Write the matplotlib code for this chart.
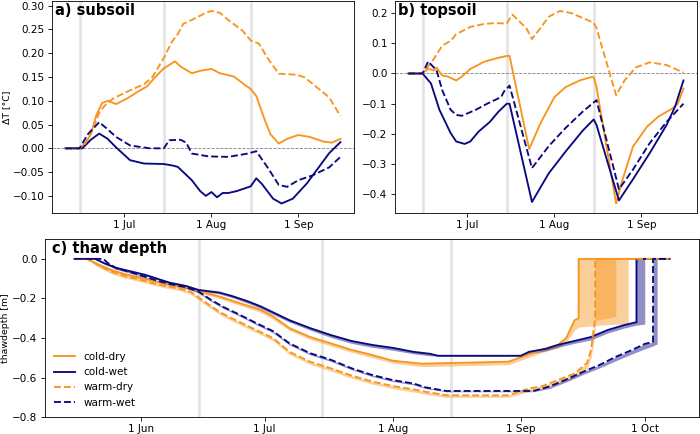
import matplotlib.pyplot as plt
import matplotlib.dates as mdates
import pandas as pd

YEAR = "2019-"

# marker dates (grey vertical lines)
marker_dates = ["06-15", "07-15", "08-15"]

# ---------------- a) subsoil ----------------
a_cold_dry_dates = ["06-10", "06-15", "06-17", "06-19", "06-21", "06-23", "06-25", "06-28",
                    "07-02", "07-06", "07-09", "07-12", "07-15", "07-19", "07-21", "07-25",
                    "07-28", "08-01", "08-04", "08-09", "08-13", "08-15", "08-17", "08-20",
                    "08-22", "08-25", "08-28", "09-01", "09-05", "09-10", "09-13", "09-16"]
a_cold_dry = [0, 0, 0.01, 0.03, 0.07, 0.095, 0.10, 0.093,
              0.105, 0.12, 0.13, 0.15, 0.168, 0.183, 0.172, 0.158,
              0.163, 0.167, 0.158, 0.151, 0.133, 0.125, 0.11, 0.06,
              0.03, 0.01, 0.02, 0.028, 0.024, 0.014, 0.012, 0.02]

a_warm_dry_dates = ["06-10", "06-15", "06-17", "06-19", "06-22", "06-24", "06-27", "07-03",
                    "07-08", "07-11", "07-15", "07-18", "07-20", "07-22", "07-25", "07-30",
                    "08-01", "08-04", "08-07", "08-12", "08-15", "08-18", "08-21", "08-25",
                    "08-31", "09-03", "09-06", "09-12", "09-16"]
a_warm_dry = [0, 0, 0.01, 0.03, 0.075, 0.09, 0.105, 0.122,
              0.135, 0.15, 0.19, 0.225, 0.24, 0.262, 0.27, 0.285,
              0.289, 0.285, 0.27, 0.248, 0.227, 0.22, 0.19, 0.157,
              0.155, 0.15, 0.136, 0.107, 0.068]

a_cold_wet_dates = ["06-10", "06-16", "06-19", "06-22", "06-25", "06-28", "07-03", "07-08",
                    "07-15", "07-18", "07-20", "07-25", "07-28", "07-30", "08-01", "08-03",
                    "08-05", "08-07", "08-10", "08-13", "08-15", "08-17", "08-19", "08-23",
                    "08-26", "08-30", "09-04", "09-07", "09-12", "09-16"]
a_cold_wet = [0, 0, 0.018, 0.031, 0.02, 0.002, -0.025, -0.032,
              -0.033, -0.036, -0.039, -0.067, -0.09, -0.10, -0.092, -0.103,
              -0.094, -0.094, -0.09, -0.084, -0.08, -0.063, -0.075, -0.106,
              -0.116, -0.106, -0.074, -0.05, -0.01, 0.013]

a_warm_wet_dates = ["06-10", "06-15", "06-18", "06-22", "06-25", "06-28", "07-03", "07-10",
                    "07-15", "07-17", "07-21", "07-23", "07-25", "07-31", "08-07", "08-14",
                    "08-17", "08-21", "08-25", "08-28", "09-01", "09-06", "09-12", "09-16"]
a_warm_wet = [0, 0, 0.03, 0.055, 0.04, 0.024, 0.006, 0.0,
              0.0, 0.017, 0.018, 0.012, -0.011, -0.017, -0.018, -0.011,
              -0.006, -0.04, -0.077, -0.081, -0.067, -0.057, -0.04, -0.018]

# ---------------- b) topsoil ----------------
b_cold_dry_dates = ["06-10", "06-15", "06-17", "06-19", "06-20", "06-22", "06-24", "06-27",
                    "06-29", "07-02", "07-07", "07-12", "07-15", "07-16", "07-23", "07-27",
                    "08-01", "08-05", "08-10", "08-14", "08-15", "08-16", "08-23", "08-25",
                    "08-29", "09-03", "09-07", "09-12", "09-14", "09-16"]
b_cold_dry = [0, 0, 0.016, 0.01, 0.02, -0.007, -0.01, -0.023,
              -0.01, 0.015, 0.039, 0.052, 0.058, 0.058, -0.25, -0.165,
              -0.078, -0.045, -0.023, -0.012, -0.012, -0.045, -0.43, -0.36,
              -0.242, -0.176, -0.143, -0.116, -0.10, -0.05]

b_warm_dry_dates = ["06-10", "06-15", "06-19", "06-22", "06-25", "06-27", "07-02", "07-07",
                    "07-11", "07-15", "07-17", "07-20", "07-22", "07-24", "07-27", "07-30",
                    "08-03", "08-07", "08-15", "08-16", "08-23", "08-26", "08-30", "09-04",
                    "09-10", "09-16"]
b_warm_dry = [0, 0, 0.048, 0.092, 0.108, 0.13, 0.154, 0.164,
              0.167, 0.165, 0.195, 0.168, 0.15, 0.114, 0.15, 0.188,
              0.207, 0.20, 0.168, 0.15, -0.072, -0.023, 0.02, 0.037,
              0.028, 0.003]

b_cold_wet_dates = ["06-10", "06-15", "06-18", "06-21", "06-25", "06-27", "06-30", "07-02",
                    "07-05", "07-09", "07-12", "07-15", "07-16", "07-24", "07-30", "08-05",
                    "08-11", "08-15", "08-16", "08-24", "08-29", "09-04", "09-10", "09-13",
                    "09-16"]
b_cold_wet = [0, 0, -0.033, -0.12, -0.197, -0.225, -0.233, -0.225,
              -0.192, -0.16, -0.127, -0.10, -0.10, -0.425, -0.33, -0.258,
              -0.19, -0.152, -0.17, -0.42, -0.35, -0.263, -0.17, -0.11,
              -0.023]

b_warm_wet_dates = ["06-10", "06-15", "06-17", "06-20", "06-22", "06-25", "06-27", "06-29",
                    "07-04", "07-08", "07-13", "07-14", "07-16", "07-24", "07-30", "08-05",
                    "08-11", "08-16", "08-24", "08-29", "09-04", "09-10", "09-16"]
b_warm_wet = [0, 0, 0.04, 0.01, -0.055, -0.12, -0.137, -0.14,
              -0.12, -0.10, -0.078, -0.06, -0.04, -0.313, -0.24, -0.18,
              -0.127, -0.088, -0.383, -0.318, -0.23, -0.16, -0.10]

# ---------------- c) thaw depth ----------------
c_cold_dry_dates = ["05-16", "05-19", "05-22", "05-25", "05-28", "06-01", "06-05", "06-08",
                    "06-13", "06-16", "06-20", "06-25", "06-30", "07-03", "07-07", "07-12",
                    "07-17", "07-22", "07-27", "08-01", "08-08", "08-29", "09-02", "09-06",
                    "09-10", "09-12", "09-14", "09-15", "09-15", "09-20", "09-24", "09-27",
                    "09-27", "10-07"]
c_cold_dry = [0, 0, -0.03, -0.056, -0.076, -0.096, -0.116, -0.13,
              -0.147, -0.167, -0.19, -0.224, -0.257, -0.29, -0.35, -0.395,
              -0.427, -0.46, -0.486, -0.515, -0.53, -0.52, -0.49, -0.46,
              -0.435, -0.40, -0.31, -0.30, 0, 0, 0, 0,
              0, 0]
c_cold_dry_low = [0, 0, -0.038, -0.065, -0.085, -0.105, -0.125, -0.14,
                  -0.157, -0.177, -0.2, -0.235, -0.27, -0.305, -0.362, -0.407,
                  -0.44, -0.472, -0.5, -0.527, -0.545, -0.535, -0.505, -0.475,
                  -0.45, -0.42, -0.36, -0.345, -0.345, -0.335, -0.33, -0.33,
                  0, 0]

c_cold_wet_dates = ["05-16", "05-21", "05-23", "05-26", "05-30", "06-02", "06-05", "06-08",
                    "06-12", "06-15", "06-20", "06-23", "06-27", "06-30", "07-03", "07-07",
                    "07-12", "07-17", "07-22", "07-27", "08-01", "08-06", "08-10", "08-12",
                    "09-01", "09-03", "09-07", "09-10", "09-14", "09-18", "09-22", "09-26",
                    "09-29", "09-29", "10-01", "10-01", "10-07"]
c_cold_wet = [0, 0, -0.02, -0.045, -0.065, -0.08, -0.10, -0.12,
              -0.137, -0.157, -0.17, -0.187, -0.215, -0.24, -0.27, -0.31,
              -0.35, -0.385, -0.415, -0.435, -0.45, -0.47, -0.48, -0.49,
              -0.49, -0.47, -0.455, -0.435, -0.415, -0.395, -0.36, -0.335,
              -0.32, 0, 0, 0, 0]
c_cold_wet_low = [0, 0, -0.025, -0.05, -0.07, -0.085, -0.105, -0.125,
                  -0.142, -0.162, -0.177, -0.195, -0.225, -0.25, -0.28, -0.32,
                  -0.36, -0.397, -0.427, -0.447, -0.462, -0.48, -0.49, -0.492,
                  -0.492, -0.48, -0.465, -0.447, -0.427, -0.41, -0.375, -0.35,
                  -0.335, -0.335, -0.33, 0, 0]

c_warm_dry_dates = ["05-16", "05-19", "05-22", "05-25", "05-28", "06-01", "06-04", "06-07",
                    "06-10", "06-13", "06-17", "06-20", "06-23", "06-26", "06-29", "07-03",
                    "07-07", "07-12", "07-17", "07-22", "07-27", "08-01", "08-06", "08-09",
                    "08-14", "08-29", "09-03", "09-06", "09-10", "09-14", "09-17", "09-18",
                    "09-19", "09-19", "09-22", "09-24", "09-24", "10-07"]
c_warm_dry = [0, 0, -0.035, -0.065, -0.086, -0.106, -0.123, -0.137,
              -0.148, -0.165, -0.224, -0.267, -0.30, -0.33, -0.36, -0.40,
              -0.47, -0.52, -0.553, -0.59, -0.62, -0.643, -0.66, -0.672,
              -0.69, -0.69, -0.655, -0.645, -0.613, -0.58, -0.527, -0.46,
              -0.30, 0, 0, 0, 0, 0]
c_warm_dry_low = [0, 0, -0.045, -0.075, -0.096, -0.116, -0.133, -0.147,
                  -0.158, -0.178, -0.237, -0.28, -0.313, -0.343, -0.373, -0.413,
                  -0.483, -0.533, -0.567, -0.603, -0.633, -0.656, -0.673, -0.685,
                  -0.70, -0.70, -0.67, -0.66, -0.63, -0.60, -0.56, -0.50,
                  -0.38, -0.31, -0.30, -0.29, 0, 0]

c_warm_wet_dates = ["05-16", "05-23", "05-24", "05-26", "05-30", "06-02", "06-05", "06-08",
                    "06-12", "06-15", "06-18", "06-21", "06-25", "06-29", "07-03", "07-07",
                    "07-12", "07-17", "07-22", "07-27", "08-01", "08-06", "08-09", "08-14",
                    "09-04", "09-08", "09-12", "09-16", "09-20", "09-24", "09-28", "10-01",
                    "10-03", "10-03", "10-04", "10-04", "10-07"]
c_warm_wet = [0, 0, -0.02, -0.046, -0.07, -0.09, -0.11, -0.127,
              -0.143, -0.165, -0.207, -0.243, -0.283, -0.325, -0.365, -0.427,
              -0.477, -0.51, -0.553, -0.587, -0.613, -0.63, -0.65, -0.668,
              -0.668, -0.645, -0.61, -0.572, -0.537, -0.495, -0.46, -0.43,
              -0.42, 0, 0, 0, 0]
c_warm_wet_low = [0, 0, -0.025, -0.052, -0.076, -0.096, -0.116, -0.133,
                  -0.15, -0.172, -0.215, -0.25, -0.29, -0.333, -0.373, -0.435,
                  -0.485, -0.518, -0.56, -0.595, -0.62, -0.637, -0.656, -0.672,
                  -0.672, -0.655, -0.622, -0.585, -0.552, -0.515, -0.48, -0.455,
                  -0.44, -0.44, -0.43, 0, 0]


def to_dates(days):
    return pd.to_datetime([YEAR + d for d in days])


ORANGE = "#f7951e"
NAVY = "#0a0a80"
GREY_LINE = "#e3e3e3"
LW = 1.8

plt.rcParams["font.family"] = ["DejaVu Sans"]

# drawn at 75 dpi so the default text sizes match the reference
fig = plt.figure(figsize=(700 / 75, 434 / 75), dpi=75)

ax_a = fig.add_axes([0.074, 0.509, 0.432, 0.488])
ax_b = fig.add_axes([0.564, 0.509, 0.432, 0.488])
ax_c = fig.add_axes([0.064, 0.039, 0.935, 0.410])

top_series = {
    ax_a: [
        (a_cold_dry_dates, a_cold_dry, ORANGE, "-"),
        (a_cold_wet_dates, a_cold_wet, NAVY, "-"),
        (a_warm_dry_dates, a_warm_dry, ORANGE, "--"),
        (a_warm_wet_dates, a_warm_wet, NAVY, "--"),
    ],
    ax_b: [
        (b_cold_dry_dates, b_cold_dry, ORANGE, "-"),
        (b_cold_wet_dates, b_cold_wet, NAVY, "-"),
        (b_warm_dry_dates, b_warm_dry, ORANGE, "--"),
        (b_warm_wet_dates, b_warm_wet, NAVY, "--"),
    ],
}

for ax, series in top_series.items():
    for d in marker_dates:
        ax.axvline(pd.Timestamp(YEAR + d), color=GREY_LINE, linewidth=2.5, zorder=0)
    ax.axhline(0, color="grey", linestyle="--", linewidth=0.8, zorder=1)
    for dates, vals, col, ls in series:
        ax.plot(to_dates(dates), vals, color=col, linestyle=ls, linewidth=LW)

ax_a.set_ylabel("ΔT [°C]", fontsize=9, labelpad=2)
ax_a.text(0.012, 0.99, "a) subsoil", transform=ax_a.transAxes,
          fontsize=14, fontweight="bold", va="top", ha="left")
ax_b.text(0.012, 0.99, "b) topsoil", transform=ax_b.transAxes,
          fontsize=14, fontweight="bold", va="top", ha="left")

# thaw depth panel
for d in marker_dates:
    ax_c.axvline(pd.Timestamp(YEAR + d), color=GREY_LINE, linewidth=2.5, zorder=0)

thaw_series = [
    ("cold-dry", c_cold_dry_dates, c_cold_dry, c_cold_dry_low, ORANGE, "-"),
    ("cold-wet", c_cold_wet_dates, c_cold_wet, c_cold_wet_low, NAVY, "-"),
    ("warm-dry", c_warm_dry_dates, c_warm_dry, c_warm_dry_low, ORANGE, "--"),
    ("warm-wet", c_warm_wet_dates, c_warm_wet, c_warm_wet_low, NAVY, "--"),
]

for label, dates, vals, low, col, ls in thaw_series:
    x = to_dates(dates)
    ax_c.fill_between(x, vals, low, color=col, alpha=0.45, linewidth=0)
    ax_c.plot(x, vals, color=col, linestyle=ls, linewidth=LW, label=label)

ax_c.set_ylim(-0.8, 0.1)
ax_c.set_ylabel("thawdepth [m]", fontsize=9, labelpad=2)
ax_c.text(0.011, 0.99, "c) thaw depth", transform=ax_c.transAxes,
          fontsize=14, fontweight="bold", va="top", ha="left")
ax_c.legend(loc="lower left", frameon=False)

for ax in (ax_a, ax_b, ax_c):
    ax.xaxis.set_major_locator(mdates.MonthLocator())
    ax.xaxis.set_major_formatter(mdates.DateFormatter("%-d %b"))

fig.savefig("out.png", dpi=75)
